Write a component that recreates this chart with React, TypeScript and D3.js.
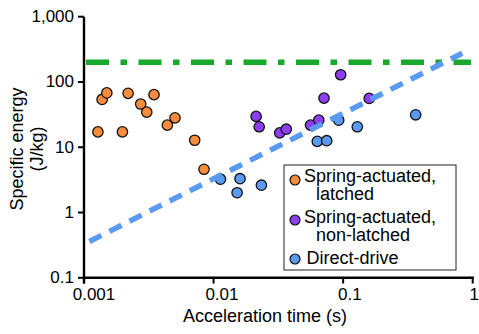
import React from "react";
import * as d3 from "d3";

// Data (acceleration time in s, specific energy in J/kg)
const latchedX = [0.00138, 0.0015, 0.00219, 0.00347, 0.00274, 0.00305, 0.00128, 0.00198, 0.0044, 0.00504, 0.00715, 0.00844];
const latchedY = [54, 68, 67, 64, 46, 34.5, 17.2, 17.2, 21.8, 28.2, 12.8, 4.6];

const nonLatchedX = [0.0213, 0.0225, 0.0324, 0.0364, 0.056, 0.0649, 0.0712, 0.0957, 0.159];
const nonLatchedY = [29.7, 20.6, 16.6, 18.9, 21.8, 26, 56.6, 129, 56];

const directX = [0.0113, 0.016, 0.0152, 0.0234, 0.0632, 0.0747, 0.0924, 0.1286, 0.363];
const directY = [3.24, 3.3, 2.01, 2.62, 12.3, 12.6, 26, 20.6, 31.4];

const limitLineY = 200;
const trendX = [0.0011, 0.83];
const trendY = [0.36, 275];

const xTicks = [0.001, 0.01, 0.1, 1];
const xTickLabels = ["0.001", "0.01", "0.1", "1"];
const yTicks = [0.1, 1, 10, 100, 1000];
const yTickLabels = ["0.1", "1", "10", "100", "1,000"];

const legendLabels = [
  ["Spring-actuated,", "latched"],
  ["Spring-actuated,", "non-latched"],
  ["Direct-drive"],
];

const ORANGE = "#f78c3c";
const PURPLE = "#8c3ef0";
const BLUE = "#5b9af2";
const GREEN = "#17a82c";
const FONT = "'Liberation Sans', Arial, Helvetica, sans-serif";

export default function App() {
  const x = d3.scaleLog().domain([0.001, 1]).range([84, 472.7]);
  const y = d3.scaleLog().domain([0.1, 1000]).range([277.8, 16.7]);

  const series = [
    { xs: latchedX, ys: latchedY, color: ORANGE },
    { xs: nonLatchedX, ys: nonLatchedY, color: PURPLE },
    { xs: directX, ys: directY, color: BLUE },
  ];

  const legendColors = [ORANGE, PURPLE, BLUE];

  const trendLine = d3.line<number>()
    .x((_, i) => x(trendX[i]))
    .y((d) => y(d));

  return (
    <svg
      width={479}
      height={334}
      style={{ position: "absolute", left: 0, top: 0, background: "#fff" }}
      fontFamily={FONT}
    >
      {/* points */}
      {series.map((s, si) =>
        s.xs.map((xv, i) => (
          <circle
            key={`p${si}-${i}`}
            cx={x(xv)}
            cy={y(s.ys[i])}
            r={5.2}
            fill={s.color}
            stroke="#111"
            strokeWidth={1.3}
          />
        ))
      )}

      {/* green limit line */}
      <line
        x1={86}
        x2={471}
        y1={y(limitLineY)}
        y2={y(limitLineY)}
        stroke={GREEN}
        strokeWidth={5.5}
        strokeDasharray="23 11.5 6.5 11.5"
      />

      {/* blue trend line */}
      <path
        d={trendLine(trendY) || ""}
        fill="none"
        stroke={BLUE}
        strokeWidth={5.5}
        strokeDasharray="13.5 9"
      />

      {/* axes */}
      <line x1={84} x2={84} y1={y(1000)} y2={283.5} stroke="#000" strokeWidth={2.4} />
      <line x1={84} x2={473.9} y1={y(0.1)} y2={y(0.1)} stroke="#000" strokeWidth={2.4} />
      {yTicks.map((t, i) => (
        <g key={`yt${i}`}>
          <line x1={78} x2={84} y1={y(t)} y2={y(t)} stroke="#000" strokeWidth={2} />
          <text
            x={74}
            y={y(t)}
            textAnchor="end"
            dominantBaseline="central"
            fontSize={17}
            fill="#000"
          >
            {yTickLabels[i]}
          </text>
        </g>
      ))}
      {xTicks.map((t, i) => {
        const last = i === xTicks.length - 1;
        return (
          <g key={`xt${i}`}>
            <line x1={x(t)} x2={x(t)} y1={y(0.1)} y2={283.5} stroke="#000" strokeWidth={2} />
            <text
              x={last ? x(t) + 6.2 : x(t) + 10 - 1.6 * i}
              y={300}
              textAnchor={last ? "end" : "middle"}
              fontSize={17}
              fill="#000"
            >
              {xTickLabels[i]}
            </text>
          </g>
        );
      })}

      {/* axis titles */}
      <text x={265} y={322} textAnchor="middle" fontSize={18} fill="#000">
        Acceleration time (s)
      </text>
      <g transform="translate(23,149) rotate(-90)">
        <text x={0} y={0} textAnchor="middle" fontSize={18} fill="#000">
          Specific energy
        </text>
        <text x={0} y={20} textAnchor="middle" fontSize={18} fill="#000">
          (J/kg)
        </text>
      </g>

      {/* legend */}
      <rect x={284} y={165} width={172} height={105} fill="#fff" stroke="#222" strokeWidth={1} />
      {[180, 220, 259].map((cy, i) => (
        <circle key={`lc${i}`} cx={295} cy={cy} r={5} fill={legendColors[i]} stroke="#111" strokeWidth={1.2} />
      ))}
      <text x={304} y={182} fontSize={18} fill="#000">{legendLabels[0][0]}</text>
      <text x={316} y={200} fontSize={18} fill="#000">{legendLabels[0][1]}</text>
      <text x={304} y={223} fontSize={18} fill="#000">{legendLabels[1][0]}</text>
      <text x={316} y={241} fontSize={18} fill="#000">{legendLabels[1][1]}</text>
      <text x={306.5} y={264} fontSize={18} fill="#000">{legendLabels[2][0]}</text>
    </svg>
  );
}
